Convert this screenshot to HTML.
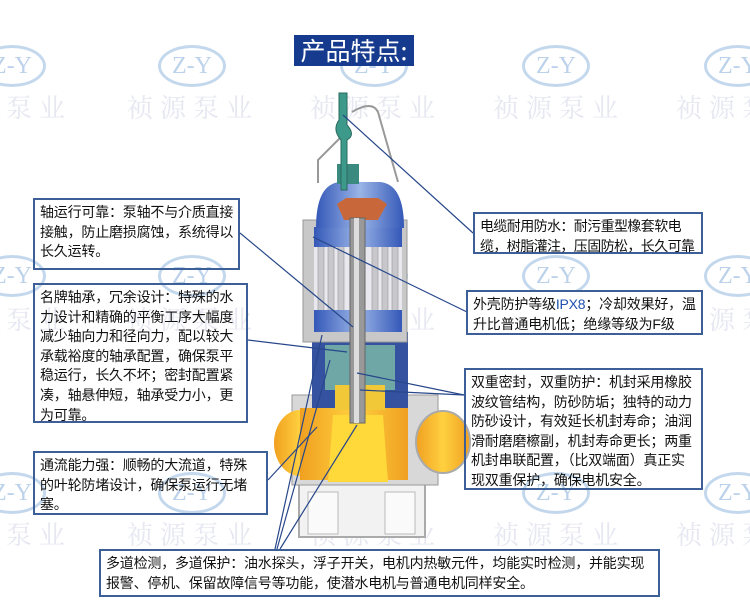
<!DOCTYPE html>
<html><head><meta charset="utf-8"><style>
html,body{margin:0;padding:0;background:#fff;}
#c{position:relative;width:750px;height:611px;overflow:hidden;font-family:"Liberation Sans","Noto Sans CJK SC",sans-serif;}
.box{position:absolute;border:2px solid #3d5f98;box-sizing:border-box;font-size:14px;line-height:19.6px;color:#111;padding:3px 0 0 5px;white-space:nowrap;letter-spacing:-0.2px;}
.wm{position:absolute;color:#e6e7f1;font-size:26px;letter-spacing:7px;white-space:nowrap;font-family:"Noto Serif CJK SC",serif;}
.ell{position:absolute;width:62px;height:36px;border:3px solid #c4d8ed;border-radius:50%;color:#bcd2ea;font-size:24px;text-align:center;line-height:36px;font-family:"Liberation Serif",serif;}
#title{position:absolute;left:294px;top:35px;width:120px;height:31px;background:#163b8e;color:#fff;font-size:25px;line-height:31px;text-align:center;font-family:"Noto Sans CJK SC",sans-serif;}
</style></head><body><div id="c">
<div class="ell" style="left:-22px;top:45px">Z-Y</div>
<div class="ell" style="left:158px;top:45px">Z-Y</div>
<div class="ell" style="left:340px;top:45px">Z-Y</div>
<div class="ell" style="left:522px;top:45px">Z-Y</div>
<div class="ell" style="left:704px;top:45px">Z-Y</div>
<div class="ell" style="left:-22px;top:255px">Z-Y</div>
<div class="ell" style="left:158px;top:255px">Z-Y</div>
<div class="ell" style="left:340px;top:255px">Z-Y</div>
<div class="ell" style="left:522px;top:255px">Z-Y</div>
<div class="ell" style="left:704px;top:255px">Z-Y</div>
<div class="ell" style="left:-22px;top:472px">Z-Y</div>
<div class="ell" style="left:158px;top:472px">Z-Y</div>
<div class="ell" style="left:340px;top:472px">Z-Y</div>
<div class="ell" style="left:522px;top:472px">Z-Y</div>
<div class="ell" style="left:704px;top:472px">Z-Y</div>
<div class="wm" style="left:-60px;top:88px">祯源泵业</div>
<div class="wm" style="left:127px;top:88px">祯源泵业</div>
<div class="wm" style="left:310px;top:88px">祯源泵业</div>
<div class="wm" style="left:493px;top:88px">祯源泵业</div>
<div class="wm" style="left:676px;top:88px">祯源泵业</div>
<div class="wm" style="left:-60px;top:300px">祯源泵业</div>
<div class="wm" style="left:127px;top:300px">祯源泵业</div>
<div class="wm" style="left:310px;top:300px">祯源泵业</div>
<div class="wm" style="left:493px;top:300px">祯源泵业</div>
<div class="wm" style="left:676px;top:300px">祯源泵业</div>
<div class="wm" style="left:-60px;top:515px">祯源泵业</div>
<div class="wm" style="left:127px;top:515px">祯源泵业</div>
<div class="wm" style="left:310px;top:515px">祯源泵业</div>
<div class="wm" style="left:493px;top:515px">祯源泵业</div>
<div class="wm" style="left:676px;top:515px">祯源泵业</div>
<div id="title">产品特点:</div>
<svg style="position:absolute;left:0;top:0" width="750" height="611">
<defs>
<linearGradient id="or" x1="0" x2="1"><stop offset="0" stop-color="#f0a020"/><stop offset=".5" stop-color="#ffd040"/><stop offset="1" stop-color="#f0a020"/></linearGradient>
<linearGradient id="bl" x1="0" x2="1"><stop offset="0" stop-color="#3458b8"/><stop offset=".5" stop-color="#9ab4e6"/><stop offset="1" stop-color="#3458b8"/></linearGradient>
</defs>
<path d="M318 183 L318 160 L340 138 M352 112 Q372 100 378 112 L398 182" stroke="#999" stroke-width="2" fill="none"/>
<!-- base -->
<rect x="299" y="482" width="126" height="55" fill="#f2f2f2" stroke="#aaa" stroke-width="2"/>
<rect x="308" y="492" width="30" height="42" fill="#fafafa" stroke="#bbb"/>
<rect x="385" y="492" width="30" height="42" fill="#fafafa" stroke="#bbb"/>
<!-- casing -->
<rect x="292" y="395" width="146" height="90" fill="#d8d8d8" stroke="#999"/>
<ellipse cx="300" cy="443" rx="26" ry="33" fill="url(#or)"/>
<rect x="300" y="408" width="108" height="72" fill="url(#or)"/>
<path d="M333 415 L383 415 L388 482 L328 482 Z" fill="#ffd83a"/>
<ellipse cx="443" cy="442" rx="27" ry="31" fill="url(#or)" stroke="#aaa" stroke-width="2"/>
<!-- lower housing -->
<rect x="312" y="332" width="96" height="76" fill="#3552a0"/>
<rect x="325" y="345" width="70" height="45" fill="#6fa6a6"/>
<rect x="335" y="385" width="50" height="25" fill="#f0c838"/>
<!-- motor housing -->
<rect x="303" y="220" width="104" height="122" fill="#c8c8c8" stroke="#999"/>
<rect x="314" y="227" width="88" height="105" fill="#e8e8ee"/>
<g fill="#c8c8cc" stroke="#999" stroke-width=".6">
<rect x="318" y="245" width="6" height="68"/><rect x="328" y="245" width="6" height="68"/><rect x="338" y="245" width="6" height="68"/>
<rect x="372" y="245" width="6" height="68"/><rect x="382" y="245" width="6" height="68"/><rect x="392" y="245" width="6" height="68"/>
</g>
<rect x="314" y="227" width="88" height="20" fill="url(#bl)"/>
<rect x="314" y="310" width="88" height="22" fill="url(#bl)"/>
<path d="M316 228 Q316 184 340 182 L380 182 Q404 184 404 228 Z" fill="url(#bl)"/>
<rect x="337" y="164" width="22" height="20" fill="#3a8a80"/>
<path d="M337 204 L346 198 L378 198 L387 204 L378 220 L344 220 Z" fill="#c8683a"/>
<path d="M339 93 L347 93 L347 125 Q356 135 347 140 L347 190 L341 190 L341 140 Q332 130 339 120 Z" fill="#3d9a8a" stroke="#2a6a60"/>
<rect x="350" y="218" width="15" height="205" fill="#999" stroke="#666"/>
<rect x="354" y="218" width="5" height="205" fill="#ddd"/>
<g stroke="#27478a" stroke-width="1.2" fill="none">
<line x1="343" y1="115" x2="473" y2="233"/>
<line x1="240" y1="233" x2="353" y2="327"/>
<line x1="313" y1="237" x2="467" y2="312"/>
<line x1="248" y1="340" x2="347" y2="352"/>
<line x1="464" y1="395" x2="357" y2="373"/>
<line x1="464" y1="395" x2="360" y2="390"/>
<line x1="268" y1="480" x2="317" y2="427"/>
<line x1="275" y1="549" x2="322" y2="335"/>
<line x1="277" y1="549" x2="330" y2="360"/>
<line x1="280" y1="549" x2="357" y2="425"/>
</g>
</svg>
<div class="box" style="left:33px;top:198px;width:207px;height:72px">轴运行可靠：泵轴不与介质直接<br>接触，防止磨损腐蚀，系统得以<br>长久运转。</div>
<div class="box" style="left:33px;top:283px;width:215px;height:140px">名牌轴承，冗余设计：特殊的水<br>力设计和精确的平衡工序大幅度<br>减少轴向力和径向力，配以较大<br>承载裕度的轴承配置，确保泵平<br>稳运行，长久不坏；密封配置紧<br>凑，轴悬伸短，轴承受力小，更<br>为可靠。</div>
<div class="box" style="left:33px;top:451px;width:235px;height:64px">通流能力强：顺畅的大流道，特殊<br>的叶轮防堵设计，确保泵运行无堵<br>塞。</div>
<div class="box" style="left:99px;top:549px;width:561px;height:48px">多道检测，多道保护：油水探头，浮子开关，电机内热敏元件，均能实时检测，并能实现<br>报警、停机、保留故障信号等功能，使潜水电机与普通电机同样安全。</div>
<div class="box" style="left:473px;top:212px;width:230px;height:42px;background:#fff;letter-spacing:-0.6px">电缆耐用防水：耐污重型橡套软电<br>缆，树脂灌注，压固防松，长久可靠</div>
<div class="box" style="left:466px;top:290px;width:237px;height:45px;background:#fff">外壳防护等级<span style="color:#2050b0">IPX8</span>；冷却效果好，温<br>升比普通电机低；绝缘等级为F级</div>
<div class="box" style="left:464px;top:368px;width:239px;height:122px">双重密封，双重防护：机封采用橡胶<br>波纹管结构，防砂防垢；独特的动力<br>防砂设计，有效延长机封寿命；油润<br>滑耐磨磨檫副，机封寿命更长；两重<br>机封串联配置，（比双端面）真正实<br>现双重保护，确保电机安全。</div>
</div></body></html>
